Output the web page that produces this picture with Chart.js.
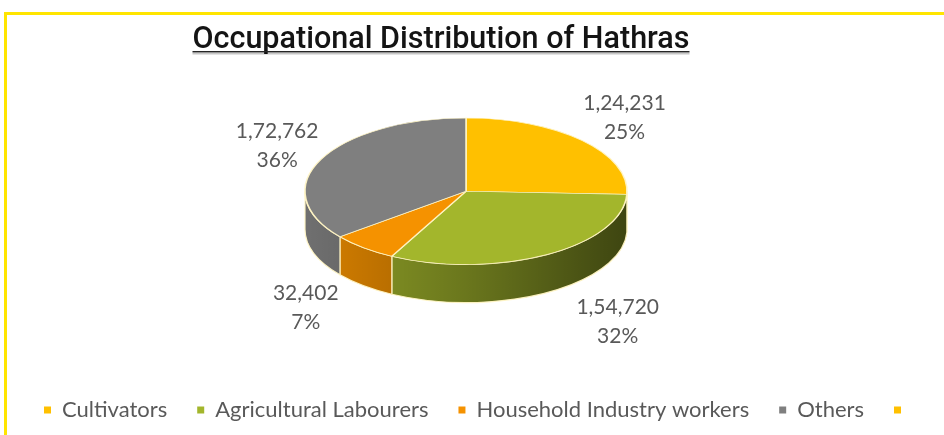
<!DOCTYPE html>
<html>
<head>
<meta charset="utf-8">
<title>Occupational Distribution of Hathras</title>
<script src="https://cdn.jsdelivr.net/npm/chart.js@4.4.1/dist/chart.umd.min.js"></script>
<style>
  html, body { margin: 0; padding: 0; background: #fff; }
  #wrap { position: relative; width: 944px; height: 435px; overflow: hidden; }
  #frame { position: absolute; left: 4px; top: 12px; right: 0; bottom: 0;
           border-top: 3px solid #ffe500; border-left: 3px solid #ffe500; }
  #pie { position: absolute; left: 0; top: 0; }
</style>
</head>
<body>
<div id="wrap">
  <div id="frame"></div>
  <canvas id="pie" width="944" height="435"></canvas>
</div>
<script>
const categories = ["Cultivators", "Agricultural Labourers", "Household Industry workers", "Others", ""];
const workers = [124231, 154720, 32402, 172762, 0];
const shareLabels = ["25%", "32%", "7%", "36%", ""];

const sliceColors = ["#ffc000", "#a3b62c", "#f59200", "#7f7f7f", "#ffc000"];
const edgeColor = "rgba(255, 244, 196, 0.95)";
const textColor = "#595959";

const TILT = 0.455;      // vertical squash of the top face
const DEPTH = 38;        // disc thickness in px
const RADIUS = 161;
const FACE_SHIFT = -12;  // pie sits a little left of the chart area centre

// 124231 -> "1,24,231"
function indianFormat(n) {
  const s = String(n);
  if (s.length <= 3) return s;
  const head = s.slice(0, -3).replace(/\B(?=(\d{2})+(?!\d))/g, ",");
  return head + "," + s.slice(-3);
}

// where the flattened top face sits: its top edge touches the chart area top
function faceOf(chart) {
  const a = chart.getDatasetMeta(0).data[0];
  const ry = a.outerRadius * TILT;
  return { cx: a.x, cy: a.y, x: a.x + FACE_SHIFT, y: chart.chartArea.top + ry, rx: a.outerRadius, ry: ry };
}

const tiltPlugin = {
  id: "tilt",
  beforeDatasetsDraw(chart) {
    const ctx = chart.ctx;
    const f = faceOf(chart);
    const arcs = chart.getDatasetMeta(0).data;

    // side wall: only the front half of the rim (0..PI) shows
    arcs.forEach((arc, i) => {
      const s = Math.max(arc.startAngle, 0);
      const e = Math.min(arc.endAngle, Math.PI);
      if (e <= s) return;
      ctx.save();
      ctx.beginPath();
      ctx.ellipse(f.x, f.y, f.rx, f.ry, 0, s, e);
      ctx.ellipse(f.x, f.y + DEPTH, f.rx, f.ry, 0, e, s, true);
      ctx.closePath();
      ctx.fillStyle = sliceColors[i];
      ctx.fill();
      const shade = ctx.createLinearGradient(f.x - f.rx, 0, f.x + f.rx, 0);
      shade.addColorStop(0, "rgba(0,0,0,0.12)");
      shade.addColorStop(0.5, "rgba(0,0,0,0.35)");
      shade.addColorStop(1, "rgba(0,0,0,0.62)");
      ctx.fillStyle = shade;
      ctx.fill();
      ctx.strokeStyle = edgeColor;
      ctx.lineWidth = 1.2;
      ctx.stroke();
      ctx.restore();
    });

    // squash the round pie into the top face
    ctx.save();
    ctx.translate(f.x, f.y);
    ctx.scale(1, TILT);
    ctx.translate(-f.cx, -f.cy);
  },
  afterDatasetsDraw(chart) {
    chart.ctx.restore();
  }
};

const valueLabels = {
  id: "valueLabels",
  afterDatasetsDraw(chart) {
    const ctx = chart.ctx;
    const f = faceOf(chart);
    const arcs = chart.getDatasetMeta(0).data;
    ctx.save();
    ctx.font = "21px Lato, 'Open Sans', sans-serif";
    ctx.fillStyle = textColor;
    ctx.textAlign = "center";
    ctx.textBaseline = "middle";
    arcs.forEach((arc, i) => {
      if (!workers[i]) return;
      const mid = (arc.startAngle + arc.endAngle) / 2;
      const ux = Math.cos(mid), uy = Math.sin(mid);
      const front = Math.max(0, uy);
      // labels in front of the disc spread wider, like a perspective view
      const lx = f.x + 4 + 10 * front + ux * (f.rx * 1.33 + 73 * front);
      const ly = uy > 0
        ? f.y + DEPTH - 41 + uy * f.ry * 2.1
        : f.y + uy * f.ry * 1.46;
      ctx.fillText(indianFormat(workers[i]), lx, ly - 14);
      ctx.fillText(shareLabels[i], lx, ly + 15);
    });
    ctx.restore();
  }
};

const heading = {
  id: "heading",
  afterDraw(chart, args, opts) {
    const ctx = chart.ctx;
    ctx.save();
    ctx.font = opts.font;
    ctx.textAlign = "center";
    ctx.textBaseline = "alphabetic";
    ctx.fillStyle = "#141414";
    ctx.fillText(opts.text, opts.x, opts.y, opts.maxWidth);
    const w = Math.min(ctx.measureText(opts.text).width, opts.maxWidth);
    ctx.fillStyle = "rgba(0,0,0,0.22)";
    ctx.fillRect(opts.x - w / 2, opts.y + 4, w, 2.5);
    ctx.fillStyle = "#262626";
    ctx.fillRect(opts.x - w / 2, opts.y + 3, w, 1.3);
    ctx.restore();
  }
};

new Chart(document.getElementById("pie"), {
  type: "pie",
  data: {
    labels: categories,
    datasets: [{
      data: workers,
      backgroundColor: sliceColors,
      borderColor: edgeColor,
      borderWidth: 1.6,
      clip: false
    }]
  },
  options: {
    responsive: false,
    animation: false,
    devicePixelRatio: 1,
    radius: RADIUS,
    layout: { padding: { left: 12, right: 0, top: 118, bottom: 4 } },
    plugins: {
      tooltip: { enabled: false },
      heading: {
        text: "Occupational Distribution of Hathras",
        font: "500 32px Roboto, 'Liberation Sans', sans-serif",
        x: 441, y: 48, maxWidth: 497
      },
      legend: {
        position: "bottom",
        labels: {
          boxWidth: 7,
          boxHeight: 7,
          padding: 30,
          color: textColor,
          font: { family: "Lato", size: 22 },
          generateLabels(chart) {
            return Chart.overrides.pie.plugins.legend.labels.generateLabels(chart)
              .map(item => Object.assign(item, { lineWidth: 0 }));
          }
        }
      }
    }
  },
  plugins: [tiltPlugin, valueLabels, heading]
});
</script>
</body>
</html>
